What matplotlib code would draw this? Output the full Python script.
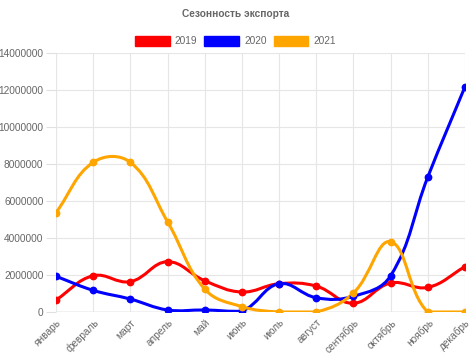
import numpy as np
import matplotlib
matplotlib.use('Agg')
import matplotlib.pyplot as plt
from matplotlib.path import Path
from matplotlib.patches import PathPatch, Patch

plt.rcParams['font.family'] = ['Liberation Sans', 'DejaVu Sans']

months = ['январь', 'февраль', 'март', 'апрель', 'май', 'июнь', 'июль',
          'август', 'сентябрь', 'октябрь', 'ноябрь', 'декабрь']
v2019 = [650000, 1960000, 1640000, 2720000, 1690000, 1080000, 1530000,
         1400000, 470000, 1570000, 1330000, 2450000]
v2020 = [1930000, 1170000, 700000, 110000, 110000, 50000, 1530000,
         770000, 850000, 1960000, 7300000, 12180000]
v2021 = [5370000, 8090000, 8090000, 4880000, 1240000, 290000, 0,
         0, 1030000, 3800000, 0, 0]
series = [('2019', v2019, '#ff0000'), ('2020', v2020, '#0000ff'), ('2021', v2021, '#ffa500')]
yticks = list(range(0, 14000001, 2000000))

W, H = 471, 363
fs = 7.3
fig = plt.figure(figsize=(W / 100, H / 100), dpi=100)
ax = fig.add_axes([56 / W, 51 / H, (465 - 56) / W, (312 - 53) / H])
ax.set_xlim(0, len(months) - 1)
ax.set_ylim(0, 14000000)
grey = '#666666'


def spline_path(xs, ys, tension=0.4):
    # chart.js style bezier, computed in pixel space and capped to the area
    pts = ax.transData.transform(np.column_stack([xs, ys]))
    x0, y0 = ax.transData.transform((0, 0))
    x1, y1 = ax.transData.transform((len(months) - 1, 14000000))
    n = len(pts)
    cps = []
    for i in range(n):
        cur = pts[i]
        prev = pts[i - 1] if i > 0 else cur
        nxt = pts[i + 1] if i < n - 1 else cur
        d01 = np.hypot(*(cur - prev))
        d12 = np.hypot(*(nxt - cur))
        tot = d01 + d12
        fa = tension * d01 / tot if tot else 0
        fb = tension * d12 / tot if tot else 0
        cp1 = cur - fa * (nxt - prev)
        cp2 = cur + fb * (nxt - prev)
        for c in (cp1, cp2):
            c[0] = min(max(c[0], x0), x1)
            c[1] = min(max(c[1], y0), y1)
        cps.append((cp1, cp2))
    verts = [pts[0]]
    codes = [Path.MOVETO]
    for i in range(1, n):
        verts += [cps[i - 1][1], cps[i][0], pts[i]]
        codes += [Path.CURVE4] * 3
    verts = ax.transData.inverted().transform(np.array(verts))
    return Path(verts, codes)


for name, vals, col in series:
    p = spline_path(np.arange(len(vals)), np.array(vals, dtype=float))
    ax.add_patch(PathPatch(p, facecolor='none', edgecolor=col, lw=2.2,
                           capstyle='round', joinstyle='round', zorder=3))
    ax.plot(range(len(vals)), vals, 'o', color=col, ms=4.6, zorder=4)

ax.set_xticks(range(len(months)))
ax.set_xticklabels(months, rotation=45, ha='right', rotation_mode='anchor')
ax.set_yticks(yticks)
ax.set_yticklabels([str(t) for t in yticks])
ax.tick_params(axis='both', colors='#e0e0e0', labelcolor=grey, labelsize=fs,
               width=0.8)
ax.tick_params(axis='y', length=7, pad=2)
ax.tick_params(axis='x', length=0, pad=4)
ax.grid(True, color='#e6e6e6', lw=0.8, zorder=0)
for s in ax.spines.values():
    s.set_visible(False)
ax.axhline(0, color='#bdbdbd', lw=1, zorder=1)
ax.axvline(0, color='#e6e6e6', lw=0.8, zorder=0)

fig.text(0.5, 1 - 14 / H, 'Сезонность экспорта', ha='center', va='center',
         color=grey, fontsize=fs, fontweight='bold')
handles = [Patch(facecolor=c, edgecolor=c) for _, _, c in series]
fig.legend(handles, [n for n, _, _ in series], loc='center', ncol=3,
           bbox_to_anchor=(0.5, 1 - 41 / H), frameon=False, fontsize=fs,
           handlelength=3.4, handleheight=1.2, handletextpad=0.5,
           columnspacing=0.7, labelcolor=grey)

fig.savefig('out.png', dpi=100, facecolor='white')
